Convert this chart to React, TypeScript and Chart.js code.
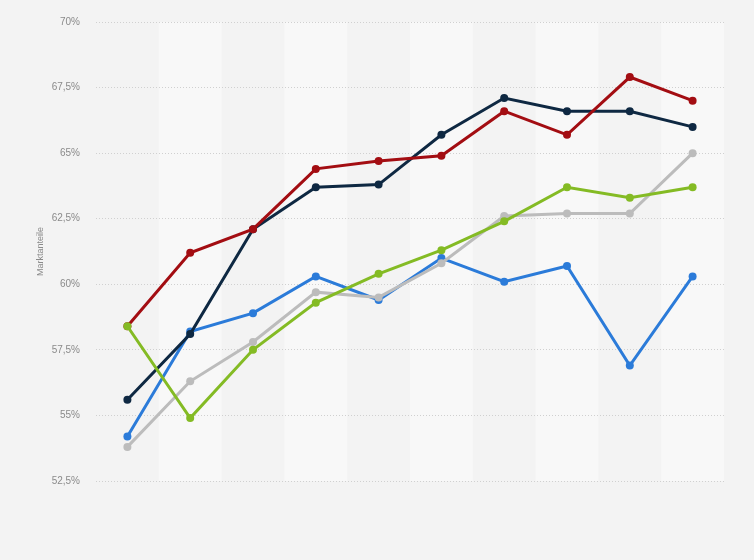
import React, { useEffect, useRef } from "react";
import { Chart, registerables } from "chart.js";

Chart.register(...registerables);

const categories = ["1", "2", "3", "4", "5", "6", "7", "8", "9", "10"];
const navyValues = [55.6, 58.1, 62.1, 63.7, 63.8, 65.7, 67.1, 66.6, 66.6, 66.0];
const redValues = [58.4, 61.2, 62.1, 64.4, 64.7, 64.9, 66.6, 65.7, 67.9, 67.0];
const blueValues = [54.2, 58.2, 58.9, 60.3, 59.4, 61.0, 60.1, 60.7, 56.9, 60.3];
const grayValues = [53.8, 56.3, 57.8, 59.7, 59.5, 60.8, 62.6, 62.7, 62.7, 65.0];
const greenValues = [58.4, 54.9, 57.5, 59.3, 60.4, 61.3, 62.4, 63.7, 63.3, 63.7];
const yTitle = "Marktanteile";

const bandsPlugin = {
  id: "bands",
  beforeDraw(chart: any) {
    const { ctx, chartArea, scales } = chart;
    ctx.save();
    ctx.fillStyle = "#f3f3f3";
    ctx.fillRect(0, 0, chart.width, chart.height);
    const x = scales.x;
    const n = categories.length;
    const w = (chartArea.right - chartArea.left) / n;
    ctx.fillStyle = "#f8f8f8";
    for (let i = 0; i < n; i++) {
      if (i % 2 === 1) {
        const c = x.getPixelForValue(i);
        ctx.fillRect(c - w / 2, chartArea.top, w, chartArea.bottom - chartArea.top);
      }
    }
    ctx.restore();
  },
};

function ds(label: string, data: number[], color: string) {
  return {
    label,
    data,
    borderColor: color,
    backgroundColor: color,
    pointBackgroundColor: color,
    pointBorderColor: color,
    borderWidth: 3,
    pointRadius: 4,
    pointBorderWidth: 0,
    tension: 0,
  };
}

export default function App() {
  const ref = useRef<HTMLCanvasElement | null>(null);
  useEffect(() => {
    document.body.style.margin = "0";
    const chart = new Chart(ref.current as HTMLCanvasElement, {
      type: "line",
      data: {
        labels: categories,
        datasets: [
          ds("Green", greenValues, "#84bb24"),
          ds("Red", redValues, "#a30d12"),
          ds("Navy", navyValues, "#0e2842"),
          ds("Gray", grayValues, "#bcbcbc"),
          ds("Blue", blueValues, "#2b7bd9"),
        ],
      },
      options: {
        animation: false,
        responsive: false,
        maintainAspectRatio: false,
        layout: { padding: { left: 0, right: 30, top: 20, bottom: 79 } },
        plugins: { legend: { display: false }, tooltip: { enabled: false } },
        scales: {
          x: {
            display: false,
            offset: true,
            grid: { display: false },
          },
          y: {
            min: 52.5,
            max: 70,
            afterFit(scale: any) {
              scale.width = 96;
            },
            ticks: {
              stepSize: 2.5,
              padding: 16,
              color: "#8a8a8a",
              font: { family: "'Liberation Sans', Arial, sans-serif", size: 10 },
              callback: (v: any) => String(v).replace(".", ",") + "%",
            },
            grid: {
              color: "#d0d0d0",
              lineWidth: 1,
              drawTicks: false,
            },
            border: { display: false, dash: [1, 2] },
            title: {
              display: true,
              text: yTitle,
              color: "#8a8a8a",
              padding: { top: 35, bottom: 0 },
              font: { family: "'Liberation Sans', Arial, sans-serif", size: 9 },
            },
          },
        },
      },
      plugins: [bandsPlugin],
    });
    return () => chart.destroy();
  }, []);
  return (
    <div style={{ width: 754, height: 560, background: "#f3f3f3" }}>
      <canvas ref={ref} width={754} height={560} style={{ display: "block" }} />
    </div>
  );
}
